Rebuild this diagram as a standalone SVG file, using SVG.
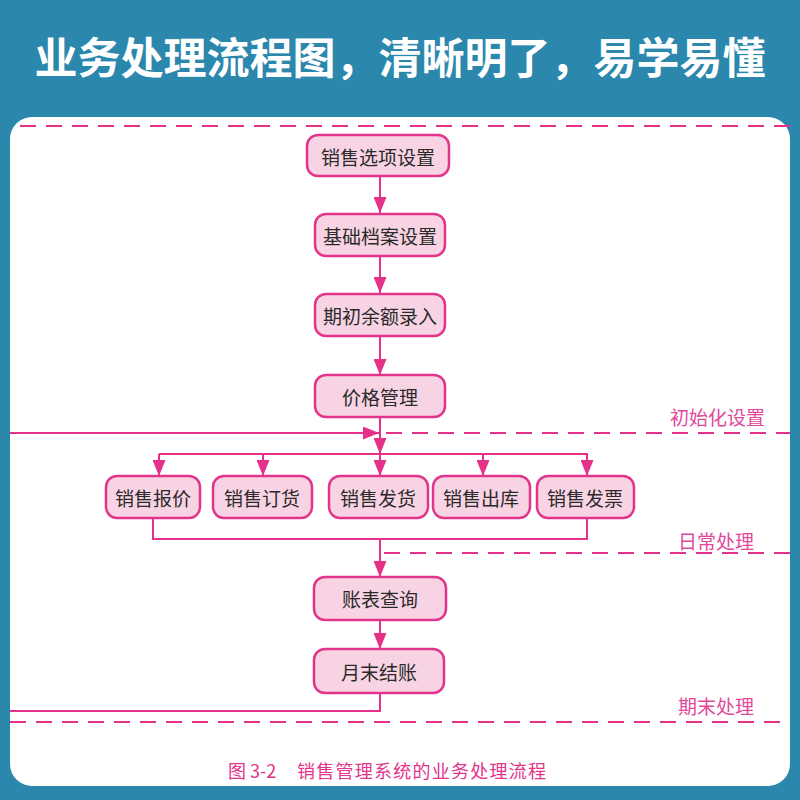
<svg xmlns="http://www.w3.org/2000/svg" width="800" height="800" viewBox="0 0 800 800">
<defs>
<marker id="ah" markerUnits="userSpaceOnUse" markerWidth="16" markerHeight="13" refX="16" refY="6.5" orient="auto">
<path d="M0,0 L16,6.5 L0,13 z" fill="#e5318a"/>
</marker>
<style>
.node rect{fill:#f8d3e3;stroke:#e2348a;stroke-width:2.5}
.node text{font-family:"Noto Sans CJK SC",sans-serif;font-size:19px;fill:#2a2a2a;text-anchor:middle;dominant-baseline:central}
.ln{fill:none;stroke:#e5318a;stroke-width:2}
.arr{fill:none;stroke:#e5318a;stroke-width:2;marker-end:url(#ah)}
.dash{fill:none;stroke:#e5318a;stroke-width:2.2;stroke-dasharray:16 10}
.lbl{font-family:"Noto Sans CJK SC",sans-serif;font-size:19px;fill:#e2489a}
</style>
</defs>
<rect width="800" height="800" fill="#2c87ad"/>
<text x="400" y="74" font-family="Noto Sans CJK SC, sans-serif" font-size="43" font-weight="bold" fill="#ffffff" text-anchor="middle">业务处理流程图，清晰明了，易学易懂</text>
<rect x="10" y="117" width="780" height="669" rx="22" fill="#ffffff"/>

<g id="dividers">
<line class="dash" x1="20" y1="126" x2="790" y2="126"/>
<line class="dash" x1="386" y1="433" x2="790" y2="433"/>
<line class="dash" x1="384" y1="553" x2="790" y2="553"/>
<line class="dash" x1="10" y1="722" x2="790" y2="722"/>
<text class="lbl" x="670" y="425">初始化设置</text>
<text class="lbl" x="678" y="549">日常处理</text>
<text class="lbl" x="678" y="714">期末处理</text>
</g>

<g id="connectors">
<line class="arr" x1="380" y1="176" x2="380" y2="213"/>
<line class="arr" x1="380" y1="256" x2="380" y2="293"/>
<line class="arr" x1="380" y1="336" x2="380" y2="375"/>
<line class="arr" x1="380" y1="417" x2="380" y2="454"/>
<line class="arr" x1="10" y1="433" x2="379" y2="433"/>
<line class="ln" x1="159" y1="454" x2="587" y2="454"/>
<line class="arr" x1="159" y1="454" x2="159" y2="476"/>
<line class="arr" x1="263" y1="454" x2="263" y2="476"/>
<line class="arr" x1="380" y1="454" x2="380" y2="476"/>
<line class="arr" x1="483" y1="454" x2="483" y2="476"/>
<line class="arr" x1="587" y1="453" x2="587" y2="476"/>
<polyline class="ln" points="153,518 153,539 587,539 587,518"/>
<line class="arr" x1="380" y1="539" x2="380" y2="577"/>
<line class="arr" x1="380" y1="620" x2="380" y2="649"/>
<polyline class="ln" points="380,693 380,711 10,711"/>
</g>

<g id="n1" class="node"><rect x="307" y="135" width="142" height="41" rx="11"/><text x="378" y="156">销售选项设置</text></g>
<g id="n2" class="node"><rect x="315" y="214" width="130" height="42" rx="11"/><text x="380" y="235">基础档案设置</text></g>
<g id="n3" class="node"><rect x="315" y="294" width="130" height="42" rx="11"/><text x="380" y="315">期初余额录入</text></g>
<g id="n4" class="node"><rect x="315" y="375" width="130" height="42" rx="11"/><text x="380" y="396">价格管理</text></g>
<g id="n5" class="node"><rect x="106" y="476" width="94" height="42" rx="11"/><text x="153" y="497">销售报价</text></g>
<g id="n6" class="node"><rect x="213" y="476" width="99" height="42" rx="11"/><text x="262" y="497">销售订货</text></g>
<g id="n7" class="node"><rect x="329" y="476" width="99" height="42" rx="11"/><text x="378" y="497">销售发货</text></g>
<g id="n8" class="node"><rect x="433" y="476" width="97" height="42" rx="11"/><text x="481" y="497">销售出库</text></g>
<g id="n9" class="node"><rect x="537" y="476" width="97" height="42" rx="11"/><text x="585" y="497">销售发票</text></g>
<g id="n10" class="node"><rect x="314" y="577" width="132" height="43" rx="11"/><text x="380" y="598">账表查询</text></g>
<g id="n11" class="node"><rect x="314" y="649" width="130" height="44" rx="11"/><text x="379" y="671">月末结账</text></g>

<text x="228" y="778" font-family="Noto Sans CJK SC, sans-serif" font-size="18" fill="#e2348a">图 3-2</text>
<text x="297" y="778" font-family="Noto Sans CJK SC, sans-serif" font-size="18" fill="#e2348a" textLength="249">销售管理系统的业务处理流程</text>
</svg>
